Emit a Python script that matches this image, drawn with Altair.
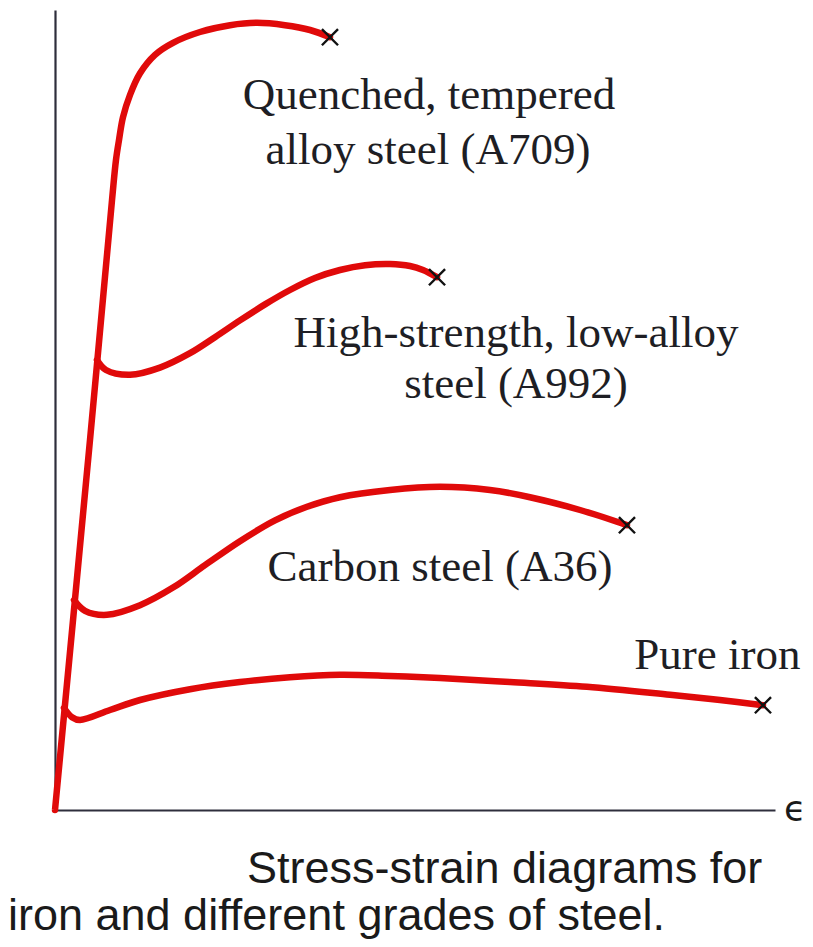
import altair as alt
import pandas as pd

# ---- data (strain: axis length = 100, stress: axis height = 100) ----
series_names = [
    "Quenched, tempered alloy steel (A709)",
    "High-strength, low-alloy steel (A992)",
    "Carbon steel (A36)",
    "Pure iron",
]

strain_a709 = [0, 4.86, 7.92, 8.47, 8.89, 9.44, 10.42, 11.81, 13.89, 16.39, 20.14, 24.31, 28.06, 31.94, 35.42, 38.19]
stress_a709 = [0, 46.25, 76.25, 81.25, 83.75, 86.6, 89.4, 92.1, 94.4, 95.9, 97.25, 98.1, 98.4, 98.1, 97.5, 96.6]

strain_a992 = [5.83, 7.08, 10.42, 14.58, 18.75, 22.22, 25.69, 29.17, 32.64, 36.11, 39.58, 43.06, 46.53, 49.31, 51.11, 53.06]
stress_a992 = [56.25, 55.0, 54.4, 55.3, 57.1, 59.1, 61.2, 63.2, 65.0, 66.5, 67.5, 68.1, 68.25, 68.0, 67.5, 66.6]

strain_a36 = [2.64, 4.17, 7.22, 11.81, 16.39, 20.83, 25.69, 30.56, 35.0, 39.58, 46.53, 53.47, 60.42, 65.97, 72.92, 79.44]
stress_a36 = [26.25, 24.9, 24.4, 25.6, 27.8, 30.6, 33.6, 36.2, 37.9, 39.1, 40.0, 40.4, 40.0, 39.1, 37.5, 35.6]

strain_iron = [1.25, 2.36, 3.47, 7.64, 11.81, 18.75, 25.69, 32.64, 39.58, 46.53, 53.47, 63.19, 73.89, 85.42, 92.36, 98.33]
stress_iron = [12.75, 11.6, 11.25, 12.5, 13.75, 15.1, 16.0, 16.6, 16.9, 16.75, 16.5, 16.0, 15.4, 14.4, 13.75, 13.1]

label_lines = ["Quenched, tempered", "alloy steel (A709)", "High-strength, low-alloy",
               "steel (A992)", "Carbon steel (A36)", "Pure iron"]
label_x = [51.94, 51.8, 64.03, 64.03, 53.47, 92.0]
label_y = [89.4, 82.5, 59.6, 53.25, 30.4, 19.4]

caption_lines = ["Stress-strain diagrams for", "iron and different grades of steel."]
caption_x = [26.67, -6.53]
caption_y = [-9.1, -15.0]

axis_symbol = ["\u03f5"]
axis_symbol_x = [102.8]
axis_symbol_y = [0.0]

# ---- tables ----
rows = []
for name, xs_, ys_ in zip(series_names,
                          [strain_a709, strain_a992, strain_a36, strain_iron],
                          [stress_a709, stress_a992, stress_a36, stress_iron]):
    for i, (a, b) in enumerate(zip(xs_, ys_)):
        rows.append({"series": name, "order": i, "strain": a, "stress": b})
curves = pd.DataFrame(rows)
ends = curves.sort_values("order").groupby("series").tail(1)

labels = pd.DataFrame({"text": label_lines, "x": label_x, "y": label_y})
captions = pd.DataFrame({"text": caption_lines, "x": caption_x, "y": caption_y})
symbol = pd.DataFrame({"text": axis_symbol, "x": axis_symbol_x, "y": axis_symbol_y})

RED = "#e00a0a"
xscale = alt.Scale(domain=[0, 100], nice=False, zero=False)
yscale = alt.Scale(domain=[0, 100], nice=False, zero=False)
ax = alt.Axis(domain=True, ticks=False, labels=False, title=None, grid=False,
              domainColor="#2e2e3c", domainWidth=2.2)

base_x = alt.X("strain:Q", scale=xscale, axis=ax)
base_y = alt.Y("stress:Q", scale=yscale, axis=ax)

lines = alt.Chart(curves).mark_line(
    color=RED, strokeWidth=6.5, interpolate="catmull-rom", strokeCap="round", strokeJoin="round"
).encode(x=base_x, y=base_y, detail="series:N", order="order:Q")

markers = alt.Chart(ends).mark_point(
    shape="M-1,-1L1,1M-1,1L1,-1", size=260, filled=False, stroke="#111111", strokeWidth=2.4, opacity=1
).encode(x="strain:Q", y="stress:Q")

label_text = alt.Chart(labels).mark_text(
    font="Liberation Serif", fontSize=45, color="#1e1e24", align="center", baseline="middle"
).encode(x="x:Q", y="y:Q", text="text:N")

caption_text = alt.Chart(captions).mark_text(
    font="Liberation Sans", fontSize=45, color="#1a1a1a", align="left", baseline="alphabetic"
).encode(x="x:Q", y="y:Q", text="text:N")

symbol_text = alt.Chart(symbol).mark_text(
    font="DejaVu Sans", fontSize=36, color="#1a1a1a", align="center", baseline="middle"
).encode(x="x:Q", y="y:Q", text="text:N")

chart = alt.layer(lines, markers, label_text, caption_text, symbol_text).properties(
    width=720, height=800,
    padding={"left": 47, "top": 2, "right": 30, "bottom": 129},
    autosize=alt.AutoSizeParams(type="none"),
    background="white",
).configure_view(strokeWidth=0, stroke=None)

chart.save("out.html", embed_options={"renderer": "svg", "actions": False})
